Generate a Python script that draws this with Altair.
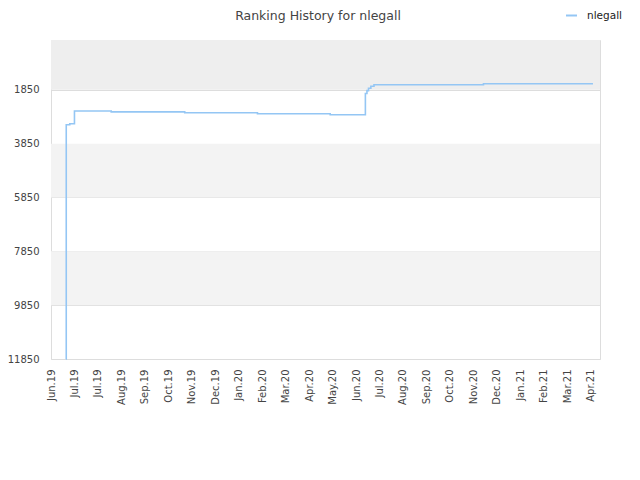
import altair as alt
import pandas as pd

# ---- data ----
title_text = "Ranking History for nlegall"
series_name = "nlegall"
dates = [
    "2019-06-20T00:00:00Z", "2019-06-20T12:00:00Z", "2019-06-25T00:00:00Z",
    "2019-07-01T00:00:00Z", "2019-08-17T00:00:00Z", "2019-11-19T00:00:00Z",
    "2020-02-20T00:00:00Z", "2020-05-23T00:00:00Z", "2020-07-07T00:00:00Z",
    "2020-07-09T00:00:00Z", "2020-07-11T00:00:00Z", "2020-07-14T00:00:00Z",
    "2020-07-18T00:00:00Z", "2020-12-05T00:00:00Z", "2021-04-24T00:00:00Z",
]
ranks = [11850, 3150, 3110, 2640, 2670, 2705, 2740, 2775, 1985,
         1880, 1790, 1720, 1660, 1625, 1625]

y_ticks = [1850, 3850, 5850, 7850, 9850, 11850]
band_from = [0, 3850, 7850]
band_to = [1850, 5850, 9850]
band_color = ["#eeeeee", "#f3f3f3", "#f3f3f3"]

x_tick_dates = [
    "2019-06-01", "2019-07-01", "2019-07-31", "2019-08-30", "2019-09-29",
    "2019-10-29", "2019-11-28", "2019-12-28", "2020-01-27", "2020-02-26",
    "2020-03-27", "2020-04-26", "2020-05-26", "2020-06-25", "2020-07-25",
    "2020-08-24", "2020-09-23", "2020-10-23", "2020-11-22", "2020-12-22",
    "2021-01-21", "2021-02-20", "2021-03-22", "2021-04-21",
]
x_start = "2019-06-01"
x_end = "2021-05-03"

# ---- build tables ----
line_df = pd.DataFrame({"date": dates, "rank": ranks, "series": series_name})
band_df = pd.DataFrame({"y0": band_from, "y1": band_to, "c": band_color})
title_df = pd.DataFrame({"t": [title_text]})


def ms(s):
    return int(pd.Timestamp(s, tz="UTC").value // 10**6)


tick_ms = [ms(d) for d in x_tick_dates]
x_dom = [ms(x_start), ms(x_end)]

font = "DejaVu Sans"
txt = "#444444"

x_scale = alt.Scale(type="utc", domain=x_dom)
y_scale = alt.Scale(domain=[0, 11850], reverse=True, nice=False, zero=False)

bands = alt.Chart(band_df).mark_rect().encode(
    y=alt.Y("y0:Q", scale=y_scale,
            axis=alt.Axis(values=y_ticks, title=None, grid=True, gridColor="#dddddd",
                          ticks=False, domain=False, labelPadding=12, format="d",
                          labelFont=font, labelFontSize=10, labelColor=txt)),
    y2="y1:Q",
    fill=alt.Fill("c:N", scale=None, legend=None),
)

line = alt.Chart(line_df).mark_line(interpolate="step-after", strokeWidth=1.6).encode(
    x=alt.X("date:T", scale=x_scale,
            axis=alt.Axis(values=tick_ms, title=None, grid=False, ticks=False,
                          domain=False, labelAngle=-90, labelPadding=10,
                          labelExpr="utcFormat(datum.value, '%b.%y')",
                          labelFont=font, labelFontSize=10, labelColor=txt,
                          labelOverlap=False)),
    y=alt.Y("rank:Q", scale=y_scale),
    stroke=alt.Stroke("series:N", scale=alt.Scale(range=["#94c6f4"]),
                      legend=alt.Legend(title=None, orient="none", legendX=514, legendY=-31,
                                        symbolType="stroke", symbolStrokeWidth=2,
                                        symbolSize=120, labelOffset=9, padding=0,
                                        labelFont=font, labelFontSize=10.5,
                                        labelColor="#222222")),
)

title = alt.Chart(title_df).mark_text(
    font=font, fontSize=12.5, color=txt, align="center", baseline="middle"
).encode(text="t:N", x=alt.value(267), y=alt.value(-24))

chart = alt.layer(bands, line, title).resolve_scale(
    fill="independent", stroke="independent"
).properties(
    width=549,
    height=319,
    autosize=alt.AutoSizeParams(type="none"),
    padding={"left": 43, "top": 32, "right": 24, "bottom": 100},
).configure_view(stroke="#dddddd", strokeWidth=1)

chart.save("out.html", embed_options={"renderer": "svg", "actions": False})
